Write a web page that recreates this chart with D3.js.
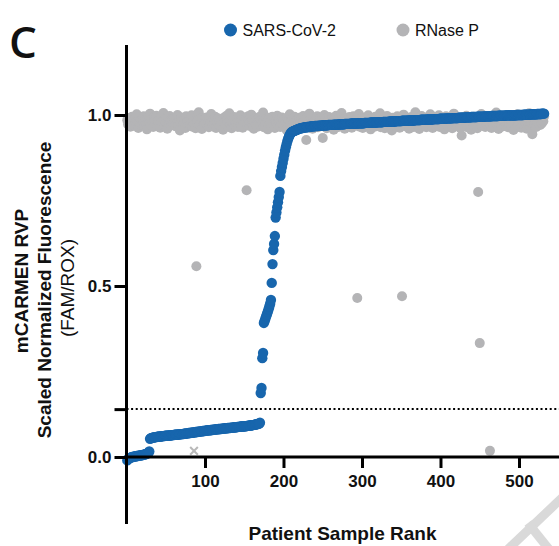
<!DOCTYPE html>
<html><head><meta charset="utf-8">
<script src="https://cdn.jsdelivr.net/npm/d3@7"></script>
<style>body{margin:0;background:#fff}svg{display:block}</style>
</head><body>
<svg id="chart" width="559" height="546"></svg>
<script>
// ---- DATA (rank = index + 1) ----
const seriesNames = ["SARS-CoV-2", "RNase P"];
const sarsValues = [
// ranks 1-29
-0.010,-0.006,-0.004,-0.003,-0.002,-0.001,0.000,0.000,0.001,0.001,0.002,0.002,0.003,0.003,0.004,0.004,0.004,0.005,0.005,0.006,0.006,0.007,0.007,0.008,0.009,0.010,0.011,0.013,0.016,
// ranks 30-170
0.053,0.055,0.056,0.056,0.057,0.057,0.058,0.058,0.058,0.059,
0.059,0.059,0.060,0.060,0.060,0.061,0.061,0.061,0.061,0.062,
0.062,0.062,0.062,0.063,0.063,0.063,0.063,0.064,0.064,0.064,
0.064,0.065,0.065,0.065,0.065,0.066,0.066,0.066,0.066,0.067,
0.067,0.067,0.067,0.068,0.068,0.068,0.069,0.069,0.069,0.070,
0.070,0.070,0.071,0.071,0.071,0.072,0.072,0.072,0.073,0.073,
0.073,0.074,0.074,0.074,0.075,0.075,0.075,0.076,0.076,0.076,
0.077,0.077,0.077,0.078,0.078,0.078,0.078,0.079,0.079,0.079,
0.080,0.080,0.080,0.080,0.081,0.081,0.081,0.082,0.082,0.082,
0.082,0.083,0.083,0.083,0.083,0.084,0.084,0.084,0.084,0.085,
0.085,0.085,0.085,0.086,0.086,0.086,0.086,0.087,0.087,0.087,
0.087,0.088,0.088,0.088,0.088,0.089,0.089,0.089,0.089,0.090,
0.090,0.090,0.090,0.091,0.091,0.091,0.092,0.092,0.092,0.093,
0.093,0.093,0.094,0.094,0.095,0.095,0.096,0.096,0.097,0.098,
0.100,
// ranks 171-216
0.187,0.202,0.289,0.304,0.392,0.398,0.405,0.412,0.418,0.425,
0.432,0.440,0.448,0.459,0.509,0.564,0.605,0.623,0.646,0.700,
0.715,0.730,0.745,0.760,0.775,0.822,0.836,0.848,0.860,0.872,
0.884,0.896,0.906,0.915,0.924,0.931,0.937,0.942,0.946,0.949,
0.951,0.952,0.953,0.954,0.955,0.956,
// ranks 217-532
0.957,0.958,0.959,0.960,
0.961,0.961,0.962,0.962,0.963,0.963,0.964,0.964,0.964,0.965,
0.965,0.965,0.966,0.966,0.966,0.967,0.967,0.967,0.967,0.968,
0.968,0.968,0.968,0.968,0.969,0.969,0.969,0.969,0.969,0.970,
0.970,0.970,0.970,0.970,0.970,0.970,0.971,0.971,0.971,0.971,
0.971,0.971,0.971,0.972,0.972,0.972,0.972,0.972,0.972,0.972,
0.973,0.973,0.973,0.973,0.973,0.973,0.973,0.974,0.974,0.974,
0.974,0.974,0.974,0.974,0.974,0.975,0.975,0.975,0.975,0.975,
0.975,0.975,0.975,0.975,0.976,0.976,0.976,0.976,0.976,0.976,
0.976,0.976,0.977,0.977,0.977,0.977,0.977,0.977,0.977,0.977,
0.978,0.978,0.978,0.978,0.978,0.978,0.978,0.978,0.979,0.979,
0.979,0.979,0.979,0.979,0.979,0.979,0.980,0.980,0.980,0.980,
0.980,0.980,0.980,0.980,0.981,0.981,0.981,0.981,0.981,0.981,
0.981,0.981,0.982,0.982,0.982,0.982,0.982,0.982,0.982,0.982,
0.983,0.983,0.983,0.983,0.983,0.983,0.983,0.983,0.984,0.984,
0.984,0.984,0.984,0.984,0.984,0.984,0.985,0.985,0.985,0.985,
0.985,0.985,0.985,0.985,0.986,0.986,0.986,0.986,0.986,0.986,
0.986,0.986,0.987,0.987,0.987,0.987,0.987,0.987,0.987,0.987,
0.988,0.988,0.988,0.988,0.988,0.988,0.988,0.988,0.989,0.989,
0.989,0.989,0.989,0.989,0.989,0.989,0.990,0.990,0.990,0.990,
0.990,0.990,0.990,0.990,0.991,0.991,0.991,0.991,0.991,0.991,
0.991,0.991,0.992,0.992,0.992,0.992,0.992,0.992,0.992,0.992,
0.993,0.993,0.993,0.993,0.993,0.993,0.993,0.993,0.994,0.994,
0.994,0.994,0.994,0.994,0.994,0.994,0.995,0.995,0.995,0.995,
0.995,0.995,0.995,0.995,0.995,0.996,0.996,0.996,0.996,0.996,
0.996,0.996,0.996,0.996,0.997,0.997,0.997,0.997,0.997,0.997,
0.997,0.997,0.997,0.998,0.998,0.998,0.998,0.998,0.998,0.998,
0.998,0.998,0.999,0.999,0.999,0.999,0.999,0.999,0.999,0.999,
0.999,0.999,0.999,0.999,0.999,0.999,1.000,1.000,1.000,1.000,
1.000,1.000,1.000,1.000,1.000,1.001,1.001,1.001,1.001,1.001,
1.001,1.001,1.001,1.001,1.002,1.002,1.002,1.002,1.002,1.002,
1.002,1.002,1.003,1.003,1.003,1.003,1.003,1.003,1.004,1.004,1.004,1.004
];
const rnaseValues = [
0.985,0.972,0.991,0.978,0.966,0.987,0.995,0.975,0.981,0.969,0.989,0.977,1.002,0.983,0.962,0.979,0.993,0.971,0.986,0.974,
0.980,0.996,0.968,0.985,0.973,0.958,0.990,0.982,0.976,1.004,0.970,0.987,0.979,0.965,0.992,0.983,0.974,0.998,0.967,0.981,
0.977,0.988,0.963,0.994,0.981,0.972,1.006,0.985,0.969,0.978,0.991,0.960,0.983,0.975,0.997,0.986,0.970,0.980,0.989,0.973,
0.990,0.967,0.982,0.976,1.000,0.971,0.986,0.955,0.979,0.993,0.984,0.968,0.977,0.988,0.962,0.996,0.974,0.983,0.970,0.985,
0.972,0.985,0.999,0.966,0.980,null,0.975,0.961,0.558,0.978,0.983,1.008,0.969,0.987,0.976,0.959,0.991,0.982,0.973,0.988,
0.979,0.993,0.970,0.984,0.964,0.989,0.976,1.003,0.981,0.967,0.986,0.974,0.995,0.962,0.982,0.978,0.990,0.971,0.985,0.968,
0.987,0.975,0.957,0.992,0.980,0.970,0.997,0.983,0.966,0.979,1.005,0.974,0.988,0.961,0.984,0.977,0.994,0.969,0.982,0.976,
0.991,0.965,0.984,0.978,0.999,0.972,0.986,0.963,0.980,0.993,0.975,0.988,0.780,0.970,0.996,0.983,0.968,0.979,1.001,0.974,
0.985,0.960,0.982,0.990,0.973,0.987,0.966,0.978,0.994,0.981,0.969,0.986,0.976,1.007,0.964,0.983,0.972,0.989,0.977,0.958,
0.984,0.992,0.971,0.980,0.967,0.995,0.978,0.986,0.962,0.981,0.975,0.998,0.970,0.983,0.988,0.965,0.979,0.993,0.974,0.985,
0.969,0.987,0.980,0.956,0.991,0.976,0.984,1.002,0.972,0.983,0.966,0.989,0.978,0.995,0.963,0.981,0.974,0.986,0.970,0.992,
0.979,0.965,0.988,0.975,0.997,0.982,0.968,0.984,0.927,0.990,0.973,0.981,1.004,0.967,0.985,0.976,0.960,0.993,0.980,0.971,
0.987,0.974,0.996,0.964,0.982,0.978,0.990,0.969,0.985,0.933,0.977,1.000,0.972,0.988,0.961,0.983,0.975,0.994,0.966,0.981,
0.973,0.989,0.980,0.957,0.986,0.970,0.998,0.978,0.984,0.965,0.992,0.976,0.983,1.006,0.968,0.987,0.974,0.960,0.990,0.979,
0.985,0.967,0.981,0.994,0.972,0.988,0.963,0.979,0.996,0.975,0.984,0.970,0.989,0.465,0.977,1.003,0.966,0.982,0.973,0.991,
0.962,0.986,0.978,0.993,0.969,0.983,0.975,0.999,0.971,0.987,0.958,0.980,0.990,0.974,0.985,0.966,0.995,0.977,0.982,0.970,
0.988,0.976,1.005,0.964,0.983,0.972,0.991,0.979,0.961,0.986,0.974,0.997,0.968,0.981,0.989,0.973,0.984,0.955,0.992,0.978,
0.970,0.985,0.980,0.966,0.996,0.975,0.987,0.963,0.982,0.990,0.470,0.972,1.001,0.978,0.967,0.984,0.993,0.974,0.988,0.960,
0.983,0.971,0.994,0.979,0.986,0.965,0.976,1.008,0.982,0.969,0.990,0.977,0.959,0.985,0.973,0.997,0.980,0.968,0.987,0.975,
0.992,0.964,0.981,0.974,0.988,0.978,1.002,0.970,0.984,0.962,0.995,0.976,0.983,0.967,0.989,0.973,0.980,0.999,0.965,0.986,
0.977,0.990,0.969,0.984,0.958,0.982,0.996,0.973,0.987,0.979,0.966,0.993,0.975,0.985,0.961,0.981,1.004,0.971,0.988,0.974,
0.983,0.968,0.991,0.976,0.963,0.986,0.940,0.980,0.994,0.972,0.985,0.978,0.998,0.964,0.982,0.970,0.989,0.975,0.957,0.987,
0.979,0.995,0.967,0.984,0.973,0.990,0.961,0.775,0.982,0.333,0.976,1.003,0.969,0.986,0.974,0.992,0.965,0.981,0.988,0.971,
0.984,0.977,0.018,0.996,0.962,0.983,0.975,0.989,0.968,0.980,1.007,0.973,0.986,0.959,0.991,0.978,0.985,0.966,0.994,0.972,
0.981,0.969,0.988,0.976,0.999,0.964,0.983,0.974,0.990,0.967,0.985,0.979,0.956,0.993,0.972,0.986,0.980,1.002,0.970,0.984,
0.975,0.991,0.963,0.982,0.987,0.971,0.997,0.978,0.984,0.960,0.989,0.974,1.005,0.968,0.983,0.976,0.944,0.992,0.980,0.973,
0.986,0.965,0.995,0.979,0.984,1.001,0.971,0.988,0.975,0.990,0.982,0.996
];
const rnaseFlaggedRanks = [86];
const rnaseFlaggedValues = [0.018];
const xTickValues = [100, 200, 300, 400, 500];
const yTickValues = [0, 0.5, 1.0];
const thresholdValue = 0.14;

// ---- STYLE ----
const blue = "#1866ad", grey = "#b4b4b6";
const fontFam = "'Liberation Sans', Arial, sans-serif";

const svg = d3.select("#chart");
const x = d3.scaleLinear().domain([0, 552]).range([126.5, 559.8]);
const y = d3.scaleLinear().domain([0, 1]).range([457, 115]);

// watermark fragment (decoration at the lower right)
const wm = svg.append("g").attr("stroke", "#d9d9d9").attr("stroke-width", 9).attr("stroke-linecap", "butt");
wm.append("line").attr("x1", 566).attr("y1", 494).attr("x2", 504).attr("y2", 553);
wm.append("line").attr("x1", 528).attr("y1", 523).attr("x2", 552).attr("y2", 553);

// threshold dotted line
svg.append("line")
  .attr("x1", x(0)).attr("x2", 559).attr("y1", y(thresholdValue)).attr("y2", y(thresholdValue))
  .attr("stroke", "#000").attr("stroke-width", 2).attr("stroke-dasharray", "2,2.6");

// RNase P points
const rnaseData = rnaseValues.map((v, i) => ({rank: i + 1, v})).filter(d => d.v !== null);
svg.append("g").selectAll("circle").data(rnaseData).join("circle")
  .attr("cx", d => x(d.rank)).attr("cy", d => y(d.v)).attr("r", 5).attr("fill", grey);

// flagged RNase P (x marker)
const flagged = rnaseFlaggedRanks.map((r, i) => ({rank: r, v: rnaseFlaggedValues[i]}));
svg.append("g").selectAll("path").data(flagged).join("path")
  .attr("d", d3.symbol(d3.symbolX, 40))
  .attr("transform", d => `translate(${x(d.rank)},${y(d.v)})`)
  .attr("stroke", "#b8b8b8").attr("stroke-width", 2).attr("fill", "none");

// SARS-CoV-2 points
const sarsData = sarsValues.map((v, i) => ({rank: i + 1, v}));
svg.append("g").selectAll("circle").data(sarsData).join("circle")
  .attr("cx", d => x(d.rank)).attr("cy", d => y(d.v)).attr("r", 5.2).attr("fill", blue);

// Axes
const yAxis = d3.axisLeft(y).tickValues([...yTickValues, thresholdValue])
  .tickFormat(d => yTickValues.includes(d) ? d3.format(".1f")(d) : "")
  .tickSize(12).tickPadding(3);
const gy = svg.append("g").attr("transform", `translate(${x(0)},0)`).call(yAxis);
gy.select(".domain").remove();
gy.selectAll(".tick line").attr("stroke", "#000").attr("stroke-width", 3);
gy.selectAll(".tick text").attr("font-family", fontFam).attr("font-weight", "bold").attr("font-size", 17).attr("fill", "#111");
svg.append("line").attr("x1", x(0)).attr("x2", x(0)).attr("y1", 45).attr("y2", 524)
  .attr("stroke", "#000").attr("stroke-width", 3);

const xAxis = d3.axisBottom(x).tickValues(xTickValues).tickSize(11).tickPadding(7);
const gx = svg.append("g").attr("transform", `translate(0,${y(0)})`).call(xAxis);
gx.select(".domain").remove();
gx.selectAll(".tick line").attr("stroke", "#000").attr("stroke-width", 3);
gx.selectAll(".tick text").attr("font-family", fontFam).attr("font-weight", "bold").attr("font-size", 17).attr("fill", "#111");
svg.append("line").attr("x1", x(0) - 1.5).attr("x2", 559).attr("y1", y(0)).attr("y2", y(0))
  .attr("stroke", "#000").attr("stroke-width", 3);

// Axis titles
const yl = svg.append("g").attr("font-family", fontFam).attr("fill", "#111").attr("text-anchor", "middle");
yl.append("text").attr("transform", "translate(28,281) rotate(-90)").attr("font-weight", "bold").attr("font-size", 19).text("mCARMEN RVP");
yl.append("text").attr("transform", "translate(51,290) rotate(-90)").attr("font-weight", "bold").attr("font-size", 19).text("Scaled Normalized Fluorescence");
yl.append("text").attr("transform", "translate(74,288) rotate(-90)").attr("font-size", 19).text("(FAM/ROX)");
svg.append("text").attr("x", 342.5).attr("y", 540).attr("text-anchor", "middle")
  .attr("font-family", fontFam).attr("font-weight", "bold").attr("font-size", 19).attr("fill", "#111")
  .text("Patient Sample Rank");

// Panel letter
svg.append("text").attr("x", 9).attr("y", 58).attr("font-family", "'Open Sans', sans-serif")
  .attr("font-weight", 600).attr("font-size", 44).attr("fill", "#111").text("C");

// Legend
const legendX = [230.5, 403];
const legendColors = [blue, grey];
const lg = svg.append("g").selectAll("g").data(seriesNames).join("g")
  .attr("transform", (d, i) => `translate(${legendX[i]},30)`);
lg.append("circle").attr("r", 6.5).attr("fill", (d, i) => legendColors[i]);
lg.append("text").attr("x", 12).attr("y", 6).attr("font-family", fontFam).attr("font-size", 16)
  .attr("fill", "#111").text(d => d);
</script>
</body></html>
